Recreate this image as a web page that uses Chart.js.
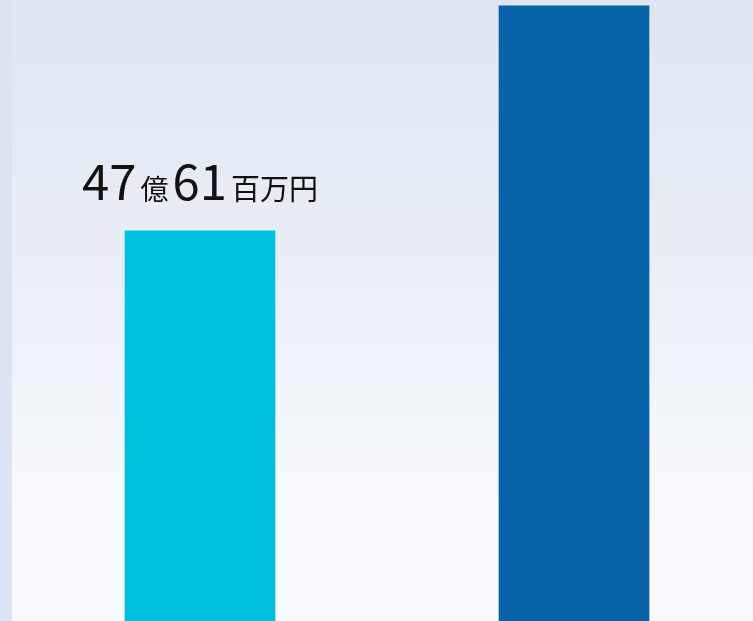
<!DOCTYPE html>
<html>
<head>
<meta charset="utf-8">
<script src="https://cdn.jsdelivr.net/npm/chart.js@4/dist/chart.umd.min.js"></script>
<style>
  html, body { margin: 0; padding: 0; width: 753px; height: 621px; overflow: hidden; }
  body { background: linear-gradient(to bottom, #dfe6f1 0%, #e9eef6 40%, #f6f8fc 75%, #f8fafd 100%); position: relative; }
  #strip { position: absolute; left: 0; top: 0; width: 12px; height: 621px; background: #dbe4ef; }
  #wrap { position: absolute; left: 13px; top: 0; width: 748px; height: 621px; }
</style>
</head>
<body>
<div id="strip"></div>
<div id="wrap"><canvas id="barChart"></canvas></div>
<script>
const categories = ["前期", "当期"];
const values = [47.61, 75.1];
const barColors = ["#00c0e0", "#0862a8"];
const labelParts = [["47", 49], ["億", 28], ["61", 49], ["百万円", 29]];

const valueLabel = {
    id: "valueLabel",
    afterDatasetsDraw(chart) {
        const ctx = chart.ctx;
        const bar = chart.getDatasetMeta(0).data[0];
        const fam = "'Noto Sans CJK JP', 'Noto Sans', sans-serif";
        const gap = 4;
        let total = 0;
        const widths = labelParts.map(p => {
            ctx.font = p[1] + "px " + fam;
            const w = ctx.measureText(p[0]).width;
            total += w;
            return w;
        });
        total += gap * (labelParts.length - 1);
        let x = bar.x - total / 2;
        const y = bar.y - 31;
        ctx.save();
        ctx.fillStyle = "#111111";
        ctx.textBaseline = "alphabetic";
        labelParts.forEach((p, i) => {
            ctx.font = p[1] + "px " + fam;
            ctx.fillText(p[0], x, y);
            x += widths[i] + gap;
        });
        ctx.restore();
    }
};

new Chart(document.getElementById("barChart"), {
    type: "bar",
    data: {
        labels: categories,
        datasets: [{
            data: values,
            backgroundColor: barColors,
            barThickness: 150,
            borderWidth: 0
        }]
    },
    options: {
        responsive: true,
        maintainAspectRatio: false,
        animation: false,
        layout: { padding: 0 },
        plugins: {
            legend: { display: false },
            tooltip: { enabled: false }
        },
        scales: {
            x: { display: false },
            y: { display: false, min: 0, max: 75.8 }
        }
    },
    plugins: [valueLabel]
});
</script>
</body>
</html>
